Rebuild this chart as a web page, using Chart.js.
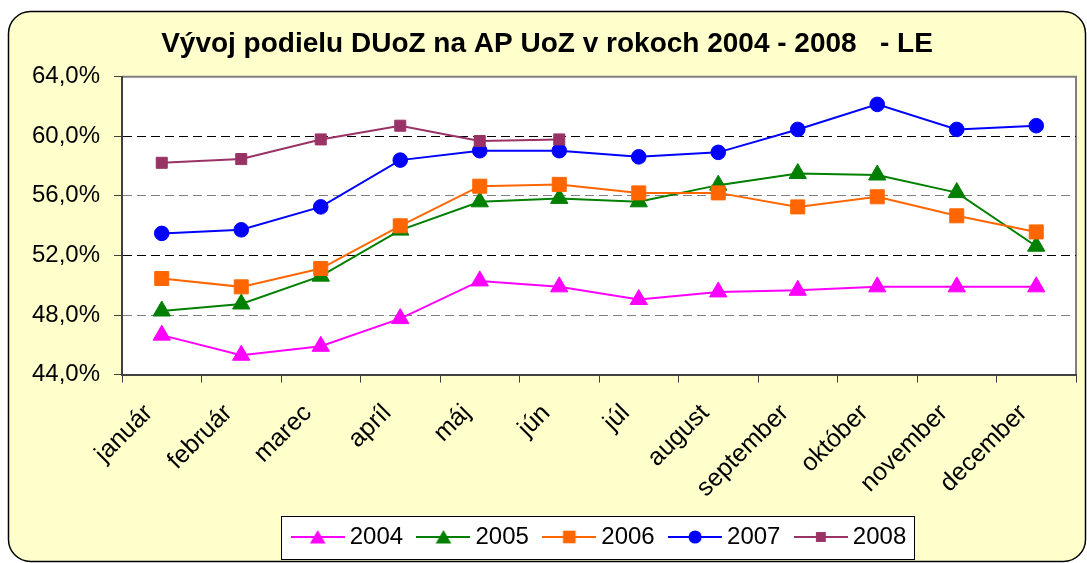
<!DOCTYPE html>
<html><head><meta charset="utf-8">
<script src="https://cdn.jsdelivr.net/npm/chart.js@4/dist/chart.umd.min.js"></script>
<style>html,body{margin:0;padding:0;background:#fff;}#wrap{width:1087px;height:563px;position:relative;}</style>
</head><body><div id="wrap"><canvas id="c" width="1087" height="563"></canvas></div>
<script>
const months = ['január','február','marec','apríl','máj','jún','júl','august','september','október','november','december'];
const seriesNames = ['2004','2005','2006','2007','2008'];
const v2004 = [46.65, 45.3, 45.9, 47.76, 50.29, 49.89, 49.04, 49.55, 49.66, 49.89, 49.89, 49.89];
const v2005 = [48.27, 48.74, 50.61, 53.7, 55.6, 55.83, 55.6, 56.72, 57.5, 57.4, 56.22, 52.62];
const v2006 = [50.45, 49.89, 51.12, 53.99, 56.65, 56.77, 56.2, 56.2, 55.26, 55.94, 54.66, 53.58];
const v2007 = [53.48, 53.72, 55.26, 58.4, 59.03, 59.03, 58.62, 58.92, 60.46, 62.14, 60.46, 60.71];
const v2008 = [58.22, 58.47, 59.79, 60.71, 59.68, 59.79, null, null, null, null, null, null];
const yMin = 44, yMax = 64, yStep = 4;
const titleText = 'Vývoj podielu DUoZ na AP UoZ v rokoch 2004 - 2008   - LE';

const FONT = "'Liberation Sans', Arial, sans-serif";
const colors = ['#FF00FF', '#008000', '#FF6600', '#0000FF', '#993366'];
const styles = ['triangle', 'triangle', 'rect', 'circle', 'rect'];
const radii = [10, 10, 9.9, 7.3, 7.8];
const allValues = [v2004, v2005, v2006, v2007, v2008];

function icon(color, style, r) {
  const c = document.createElement('canvas');
  c.width = 54; c.height = 24;
  const g = c.getContext('2d');
  g.strokeStyle = color; g.lineWidth = 2;
  g.beginPath(); g.moveTo(0, 12); g.lineTo(54, 12); g.stroke();
  g.fillStyle = color;
  const x = 27, y = 12;
  g.beginPath();
  if (style === 'triangle') {
    const ry = y + 2;
    g.moveTo(x, ry - r); g.lineTo(x + r * 0.866, ry + r / 2); g.lineTo(x - r * 0.866, ry + r / 2); g.closePath();
  } else if (style === 'circle') {
    g.arc(x, y, r, 0, Math.PI * 2);
  } else {
    const s = r * Math.SQRT1_2;
    g.rect(x - s, y - s, 2 * s, 2 * s);
  }
  g.fill();
  return c;
}
const icons = colors.map((c, i) => icon(c, styles[i], radii[i] * 0.9));

const datasets = seriesNames.map((name, i) => ({
  label: name,
  data: allValues[i],
  borderColor: colors[i],
  backgroundColor: colors[i],
  borderWidth: 2,
  pointStyle: styles[i],
  pointRadius: radii[i],
  pointBorderWidth: 1,
  pointBorderColor: colors[i],
  pointBackgroundColor: colors[i],
  tension: 0,
  spanGaps: false,
  order: 4 - i
}));

const LEG_TARGET_X = 297.7;
const decor = {
  id: 'decor',
  afterLayout(chart) {
    const lg = chart.legend;
    const pad = lg.options.labels.padding;
    const cur = (lg.left + pad + lg.right - lg.lineWidths[0]) / 2;
    const shift = LEG_TARGET_X - cur;
    lg.left += shift; lg.right += shift;
    const t = chart.titleBlock;
    t.left += 3; t.right += 3;
  },
  beforeDraw(chart) {
    const ctx = chart.ctx, a = chart.chartArea;
    ctx.save();
    ctx.fillStyle = '#fff';
    ctx.fillRect(0, 0, chart.width, chart.height);
    ctx.beginPath();
    ctx.roundRect(8.5, 11.5, 1077, 550, 22);
    ctx.fillStyle = '#FFFFCC'; ctx.fill();
    ctx.lineWidth = 1.5; ctx.strokeStyle = '#000'; ctx.stroke();
    ctx.fillStyle = '#fff';
    ctx.fillRect(a.left, a.top, a.right - a.left, a.bottom - a.top);
    ctx.strokeStyle = '#808080'; ctx.lineWidth = 2;
    ctx.beginPath(); ctx.moveTo(a.left, a.top); ctx.lineTo(a.right, a.top); ctx.lineTo(a.right, a.bottom); ctx.stroke();
    const hb = chart.legend.legendHitBoxes;
    if (hb && hb.length) {
      const cy = hb[0].top + hb[0].height / 2;
      const last = hb[hb.length - 1];
      const l = hb[0].left - 16.7, r = last.left + last.width + 7.4;
      ctx.fillStyle = '#fff';
      ctx.fillRect(l, cy - 21.3, r - l, 43.3);
      ctx.strokeStyle = '#000'; ctx.lineWidth = 1;
      ctx.strokeRect(Math.round(l) + 0.5, Math.round(cy - 21.3) + 0.5, Math.round(r - l), 43);
    }
    ctx.restore();
  }
};

new Chart(document.getElementById('c'), {
  type: 'line',
  data: { labels: months, datasets },
  options: {
    responsive: false,
    animation: false,
    events: [],
    layout: { padding: { left: 10, right: 9, top: 0, bottom: 4 } },
    plugins: {
      tooltip: { enabled: false },
      title: {
        display: true, text: titleText, color: '#000',
        font: { family: FONT, size: 28, weight: 'bold' },
        padding: { top: 27.2, bottom: 15.9 }
      },
      legend: {
        position: 'bottom',
        labels: {
          usePointStyle: true, pointStyleWidth: 40, boxHeight: 24, padding: 20.4,
          color: '#000', font: { family: FONT, size: 24 },
          generateLabels: (chart) => chart.data.datasets.map((ds, i) => ({
            text: ds.label, pointStyle: icons[i], datasetIndex: i, hidden: false,
            fillStyle: ds.borderColor, strokeStyle: ds.borderColor, lineWidth: 0, fontColor: '#000'
          }))
        }
      }
    },
    scales: {
      x: {
        offset: true,
        grid: { display: true, drawOnChartArea: false, offset: true, drawTicks: true, tickLength: 8, color: '#404040', lineWidth: 1 },
        border: { display: true, color: '#404040', width: 2 },
        ticks: { maxRotation: 45, minRotation: 45, autoSkip: false, padding: 16, labelOffset: -13, color: '#000', font: { family: FONT, size: 25 } },
        afterFit: (s) => { s.height = 130; }
      },
      y: {
        min: yMin, max: yMax,
        ticks: {
          stepSize: yStep, padding: 14, color: '#000', font: { family: FONT, size: 24 },
          callback: (v) => v.toFixed(1).replace('.', ',') + '%'
        },
        grid: {
          drawTicks: true, tickLength: 8, tickColor: '#404040', lineWidth: 1,
          color: (ctx) => {
            const v = ctx.tick ? ctx.tick.value : null;
            if (v === 60 || v === 52) return '#000';
            if (v === 56 || v === 48) return '#808080';
            return 'rgba(0,0,0,0)';
          }
        },
        border: { display: true, color: '#404040', width: 2, dash: [9, 5] },
        afterFit: (s) => { s.width = 112; }
      }
    }
  },
  plugins: [decor]
});
</script>
</body></html>
